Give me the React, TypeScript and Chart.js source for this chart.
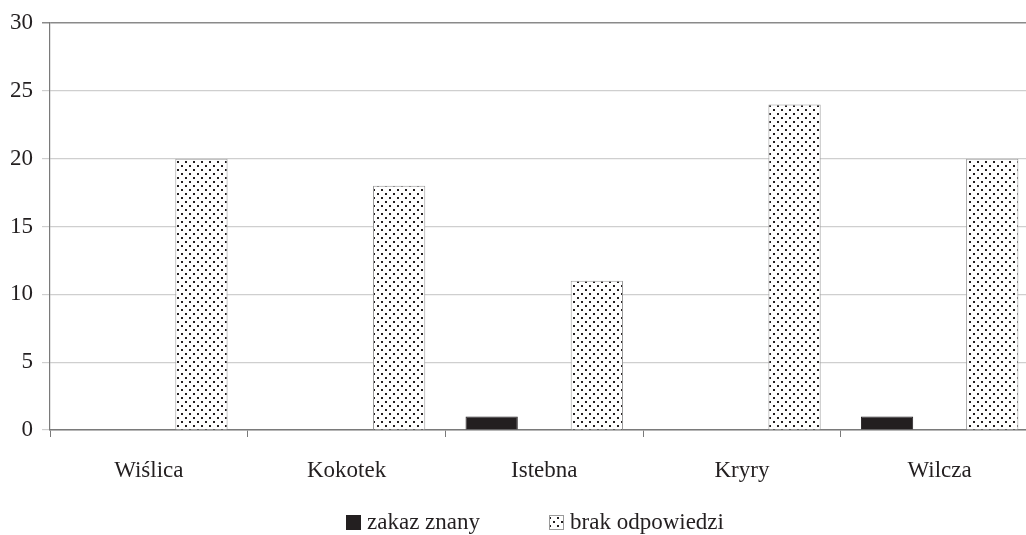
import React, { useEffect, useRef } from "react";
import { Chart, registerables } from "chart.js";

Chart.register(...registerables);

const categories = ["Wiślica", "Kokotek", "Istebna", "Kryry", "Wilcza"];
const zakazZnany = [0, 0, 1, 0, 1];
const brakOdpowiedzi = [20, 18, 11, 24, 20];
const seriesLabels = ["zakaz znany", "brak odpowiedzi"];
const yMin = 0;
const yMax = 30;
const yStep = 5;

const FONT = '"Liberation Serif", "Times New Roman", serif';
const TEXT = "#231f20";

Chart.defaults.font.family = FONT;

function makeDotPattern(ctx: CanvasRenderingContext2D) {
  const c = document.createElement("canvas");
  c.width = 8;
  c.height = 8;
  const g = c.getContext("2d")!;
  g.fillStyle = "#ffffff";
  g.fillRect(0, 0, 8, 8);
  g.fillStyle = "#231f20";
  g.fillRect(1, 1, 2, 2);
  g.fillRect(5, 5, 2, 2);
  return ctx.createPattern(c, "repeat")!;
}

// Excel-style legend centred under the (uncropped) chart
const bottomLegend = {
  id: "bottomLegend",
  afterDraw(chart: any) {
    const { ctx, chartArea } = chart;
    const box = 15;
    const gapText = 6;
    const gapItem = 69;
    ctx.save();
    ctx.font = `23px ${FONT}`;
    const items = chart.data.datasets.map((ds: any) => ({
      text: ds.label as string,
      fill: ds.backgroundColor,
      stroke: ds.borderColor,
      w: ctx.measureText(ds.label).width,
    }));
    const total = items.reduce(
      (s: number, it: any, i: number) => s + box + gapText + it.w + (i ? gapItem : 0),
      0
    );
    let x = chart.width / 2 - total / 2;
    const cy = chartArea.bottom + 92.5;
    items.forEach((it: any) => {
      ctx.fillStyle = it.fill;
      ctx.fillRect(Math.round(x), Math.round(cy - box / 2), box, box);
      ctx.strokeStyle = it.stroke;
      ctx.lineWidth = 1;
      ctx.strokeRect(Math.round(x) + 0.5, Math.round(cy - box / 2) + 0.5, box - 1, box - 1);
      ctx.fillStyle = TEXT;
      ctx.textBaseline = "middle";
      ctx.textAlign = "left";
      ctx.fillText(it.text, x + box + gapText, cy);
      x += box + gapText + it.w + gapItem;
    });
    ctx.restore();
  },
};

export default function App() {
  const ref = useRef<HTMLCanvasElement | null>(null);

  useEffect(() => {
    const canvas = ref.current!;
    const ctx = canvas.getContext("2d")!;
    const dots = makeDotPattern(ctx);
    let alive = true;
    const chart = new Chart(ctx, {
      type: "bar",
      data: {
        labels: categories,
        datasets: [
          {
            label: seriesLabels[0],
            data: zakazZnany,
            backgroundColor: "#231f20",
            borderColor: "#231f20",
            borderWidth: 1,
          },
          {
            label: seriesLabels[1],
            data: brakOdpowiedzi,
            backgroundColor: dots,
            borderColor: "#9a9a9a",
            borderWidth: 1,
          },
        ],
      },
      options: {
        responsive: false,
        animation: false,
        devicePixelRatio: 1,
        layout: { padding: { left: 8, top: 23, right: 31.5, bottom: 35 } },
        datasets: {
          bar: { categoryPercentage: 1.064, barPercentage: 0.497 },
        },
        scales: {
          x: {
            grid: {
              offset: true,
              drawOnChartArea: false,
              drawTicks: true,
              tickLength: 7,
              color: "#7a7a7a",
            },
            border: { color: "#7a7a7a", width: 1.5 },
            ticks: {
              padding: 20,
              color: TEXT,
              font: { family: FONT, size: 23 },
            },
            afterFit: (s: any) => {
              s.height = 70;
            },
          },
          y: {
            min: yMin,
            max: yMax,
            ticks: {
              stepSize: yStep,
              padding: 9,
              color: TEXT,
              font: { family: FONT, size: 23 },
            },
            grid: {
              tickLength: 8,
              color: (c: any) =>
                c.tick && c.tick.value === yMax ? "#8a8a8a" : "#cfcfcf",
              lineWidth: (c: any) => (c.tick && c.tick.value === yMax ? 1.5 : 1.2),
            },
            border: { color: "#7a7a7a", width: 1.2 },
            afterFit: (s: any) => {
              s.width = 42;
            },
          },
        },
        plugins: {
          tooltip: { enabled: false },
          legend: { display: false },
        },
      },
      plugins: [bottomLegend],
    });
    const fonts: any = (document as any).fonts;
    if (fonts && fonts.load) {
      fonts
        .load('23px "Liberation Serif"', "Wiślica")
        .then(() => {
          if (alive) chart.update();
        })
        .catch(() => {});
    }
    return () => {
      alive = false;
      chart.destroy();
    };
  }, []);

  return (
    <div
      style={{
        position: "absolute",
        left: 0,
        top: 0,
        width: 1026,
        height: 535,
        overflow: "hidden",
        background: "#ffffff",
        fontFamily: FONT,
      }}
    >
      <canvas ref={ref} width={1070} height={535} style={{ width: 1070, height: 535, display: "block" }} />
    </div>
  );
}
